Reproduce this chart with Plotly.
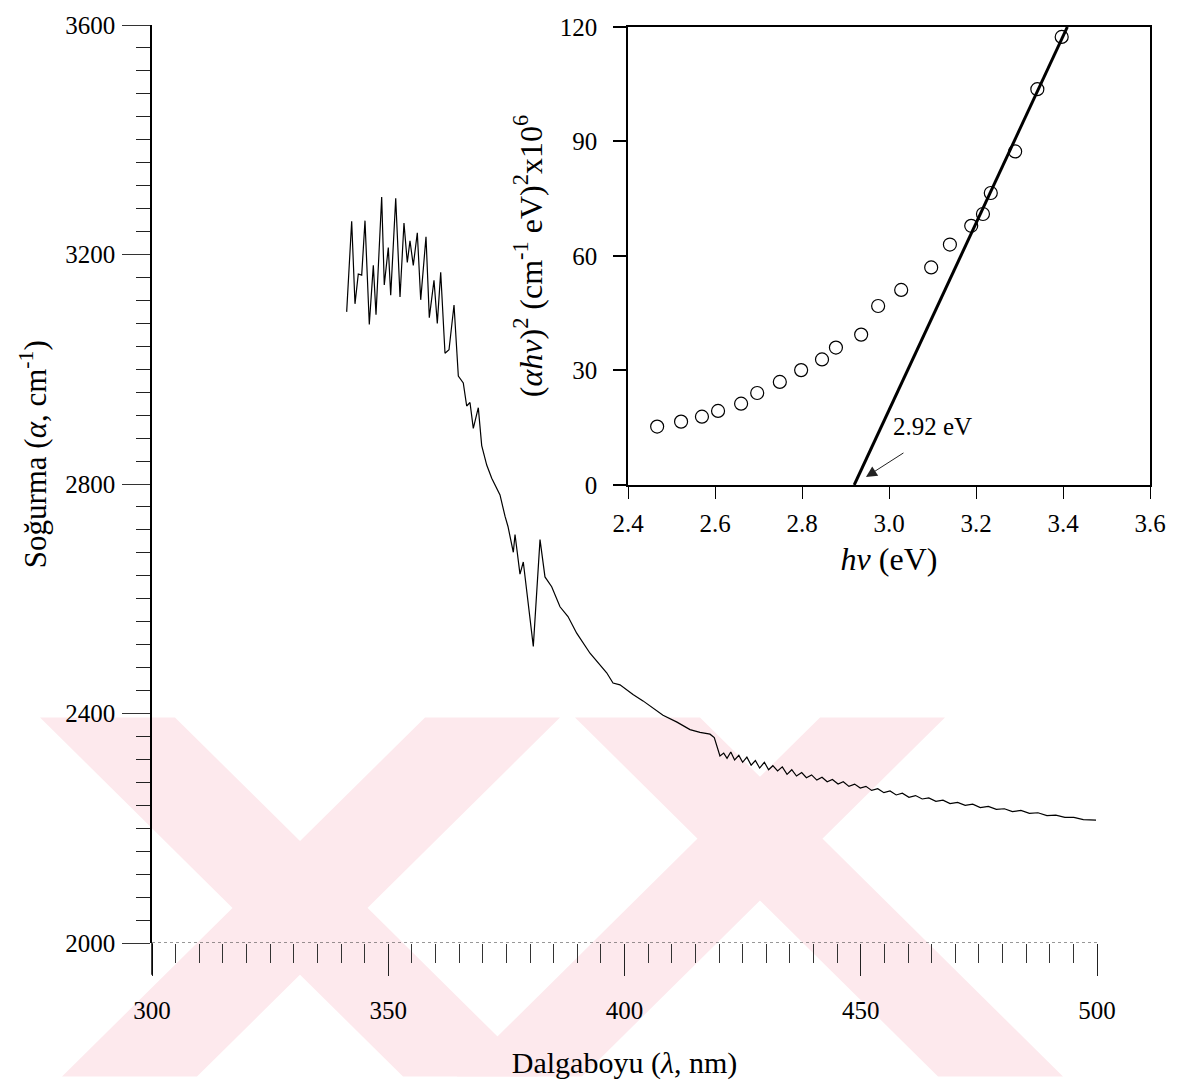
import plotly.graph_objects as go

# ---------------- data ----------------
wavelength_nm = [
    341.2, 342.26, 342.96, 343.66, 344.38, 345.08, 345.99, 346.84, 347.41, 348.61,
    349.16, 350.01, 350.52, 351.58, 352.49, 353.33, 354.03, 354.60, 355.30, 356.15,
    356.87, 357.99, 358.69, 359.68, 360.38, 361.10, 361.80, 362.01, 362.86, 363.92,
    364.83, 365.88, 366.60, 367.30, 368.00, 369.06, 369.78, 370.84, 371.90, 372.59,
    373.65, 374.71, 375.34, 376.47, 376.83, 377.88, 378.58, 380.70, 382.12, 383.17,
    384.59, 386.35, 388.04, 389.88, 392.70, 396.23, 397.57, 399.05, 401.80, 403.92,
    406.03, 408.15, 411.11, 413.86, 415.98, 418.10, 419.0, 419.6, 420.2,
    421.0, 421.7, 422.5, 423.3, 424.2, 425.0, 425.9, 426.8, 427.7, 428.6,
    429.6, 430.5, 431.4, 432.4, 433.4, 434.4, 435.4, 436.4, 437.5, 438.5,
    439.6, 440.7, 441.8, 442.9, 444.0, 445.2, 446.3, 447.5, 448.7, 449.9,
    451.1, 452.3, 453.6, 454.9, 456.2, 457.5, 458.8, 460.2, 461.6, 463.0,
    464.4, 465.9, 467.4, 468.9, 470.5, 472.1, 473.7, 475.3, 477.0, 478.7,
    480.4, 482.1, 483.9, 485.7, 487.5, 489.4, 491.3, 493.2, 495.1, 497.1,
    499.8,
]
absorption = [
    3100, 3258, 3114, 3166, 3164, 3259, 3078, 3181, 3095, 3300,
    3147, 3212, 3129, 3298, 3126, 3255, 3186, 3224, 3181, 3238,
    3121, 3231, 3090, 3155, 3080, 3169, 3060, 3028, 3034, 3112,
    2988, 2976, 2936, 2942, 2897, 2933, 2867, 2833, 2810, 2798,
    2781, 2744, 2726, 2681, 2712, 2643, 2664, 2517, 2703, 2638,
    2621, 2586, 2569, 2540, 2505, 2471, 2453, 2450, 2433, 2422,
    2410, 2397, 2385, 2372, 2367, 2364, 2358, 2342, 2326,
    2331, 2322, 2333, 2319, 2327, 2315, 2324, 2310, 2318, 2305,
    2315, 2302, 2309, 2300, 2307, 2294, 2302, 2291, 2297, 2288,
    2293, 2284, 2289, 2281, 2285, 2277, 2281, 2273, 2277, 2270,
    2273, 2266, 2269, 2262, 2265, 2258, 2261, 2254, 2257, 2251,
    2253, 2247, 2249, 2243, 2245, 2240, 2242, 2236, 2238, 2233,
    2234, 2229, 2231, 2226, 2227, 2222, 2223, 2219, 2219, 2215,
    2214,
]

photon_energy_eV = [2.467, 2.522, 2.570, 2.607, 2.660, 2.697, 2.749, 2.798, 2.846, 2.878,
                    2.936, 2.975, 3.028, 3.097, 3.140, 3.189, 3.216, 3.234, 3.290, 3.341, 3.397]
ahv_squared = [15.3, 16.6, 17.9, 19.4, 21.3, 24.1, 27.0, 30.1, 32.9, 36.0,
               39.4, 46.9, 51.1, 57.0, 63.0, 67.9, 71.0, 76.5, 87.4, 103.7, 117.4]

fit_energy = [2.92, 3.41]
fit_value = [0, 120]

band_gap_label = "2.92 eV"

main_x_ticks = [300, 350, 400, 450, 500]
main_y_ticks = [2000, 2400, 2800, 3200, 3600]
inset_x_ticks = [2.4, 2.6, 2.8, 3.0, 3.2, 3.4, 3.6]
inset_y_ticks = [0, 30, 60, 90, 120]

# watermark (decorative background, pixel polygons: top-left, top-right, bottom-left, bottom-right)
WM_TOP, WM_BOTTOM = 715, 1078
watermark_bands = [
    (40, 175, 403, 538),
    (425, 560, 62, 197),
    (575, 700, 938, 1063),
    (820, 945, 457, 582),
]

FONT = "Liberation Serif, Times New Roman, serif"
W, H = 1186, 1089
ML, MR, MT, MB = 152, 36, 15, 146
PW, PH = W - ML - MR, H - MT - MB


def px_to_paper(x, y):
    return (x - ML) / PW, (H - MB - y) / PH


fig = go.Figure()

fig.add_trace(go.Scatter(x=wavelength_nm, y=absorption, mode="lines",
                         line=dict(color="black", width=1.2), xaxis="x", yaxis="y",
                         showlegend=False))
fig.add_trace(go.Scatter(x=photon_energy_eV, y=ahv_squared, mode="markers",
                         marker=dict(symbol="circle-open", size=13, color="black",
                                     line=dict(width=1.2, color="black")),
                         xaxis="x2", yaxis="y2", showlegend=False))
fig.add_trace(go.Scatter(x=fit_energy, y=fit_value, mode="lines",
                         line=dict(color="black", width=3), xaxis="x2", yaxis="y2",
                         showlegend=False, cliponaxis=False))

main_x_end = (1097 - ML) / PW
inset_x0 = (628 - ML) / PW
inset_y0 = (H - MB - 480) / PH
inset_y1 = (H - MB - 17) / PH

tickfont = dict(family=FONT, size=25, color="black")

fig.update_layout(
    width=W, height=H,
    margin=dict(l=ML, r=MR, t=MT, b=MB, pad=0),
    paper_bgcolor="white", plot_bgcolor="rgba(0,0,0,0)",
    font=dict(family=FONT, color="black"),
    xaxis=dict(domain=[0, main_x_end], range=[300, 500], tickvals=main_x_ticks,
               ticks="outside", ticklen=32, tickwidth=1.3, tickcolor="#222",
               minor=dict(dtick=5, tick0=300, ticks="outside", ticklen=19,
                          tickwidth=1.1, tickcolor="#333"),
               showline=False, showgrid=False, zeroline=False,
               tickfont=tickfont, ticklabelstandoff=13,
               title=dict(text="Dalgaboyu (<i>λ</i>, nm)", standoff=28,
                          font=dict(family=FONT, size=30, color="black")),
               anchor="y"),
    yaxis=dict(domain=[0, 1], range=[2000, 3600], tickvals=main_y_ticks,
               ticks="outside", ticklen=28, tickwidth=1.2, tickcolor="#333",
               minor=dict(dtick=40, tick0=2000, ticks="outside", ticklen=14,
                          tickwidth=1.3, tickcolor="#222"),
               showline=True, linecolor="black", linewidth=1.5,
               showgrid=False, zeroline=False,
               tickfont=tickfont, ticklabelstandoff=2,
               anchor="x"),
    xaxis2=dict(domain=[inset_x0, 1], range=[2.4, 3.6], tickvals=inset_x_ticks,
                tickformat=".1f", ticks="outside", ticklen=12, tickwidth=1.3,
                tickcolor="black", showline=True, mirror=True, linecolor="black",
                linewidth=1.5, showgrid=False, zeroline=False,
                tickfont=tickfont, ticklabelstandoff=3,
                title=dict(text="<i>hν</i> (eV)", standoff=12,
                           font=dict(family=FONT, size=32, color="black")),
                anchor="y2"),
    yaxis2=dict(domain=[inset_y0, inset_y1], range=[0, 120], tickvals=inset_y_ticks,
                ticks="outside", ticklen=13, tickwidth=1.5, tickcolor="black",
                showline=True, mirror=True, linecolor="black", linewidth=1.5,
                showgrid=False, zeroline=False,
                tickfont=tickfont, ticklabelstandoff=11,
                title=dict(text="(<i>αhν</i>)<sup>2</sup> (cm<sup>-1</sup> eV)<sup>2</sup>x10<sup>6</sup>",
                           standoff=8, font=dict(family=FONT, size=32, color="black")),
                anchor="x2"),
)

shapes = []
for (a, b, c, d) in watermark_bands:
    p1 = px_to_paper(a, WM_TOP)
    p2 = px_to_paper(b, WM_TOP)
    p3 = px_to_paper(d, WM_BOTTOM)
    p4 = px_to_paper(c, WM_BOTTOM)
    path = f"M {p1[0]},{p1[1]} L {p2[0]},{p2[1]} L {p3[0]},{p3[1]} L {p4[0]},{p4[1]} Z"
    shapes.append(dict(type="path", xref="paper", yref="paper", path=path,
                       fillcolor="rgb(253,233,237)", line=dict(width=0), layer="below"))
shapes.append(dict(type="line", xref="x", yref="y", x0=300, x1=500, y0=2000, y1=2000,
                   line=dict(color="#333", width=1.2, dash="dot")))
shapes.append(dict(type="line", xref="paper", yref="paper", x0=0, x1=0, y0=0,
                   y1=-(975 - (H - MB)) / PH, line=dict(color="black", width=1.5)))
fig.update_layout(shapes=shapes)

# main y-axis title (placed like the original, above the domain centre)
ytitle_x, ytitle_y = px_to_paper(33, 449)
fig.add_annotation(x=ytitle_x, y=ytitle_y, xref="paper", yref="paper",
                   text="Soğurma (<i>α</i>, cm<sup>-1</sup>)", textangle=-90,
                   showarrow=False, xanchor="center", yanchor="middle",
                   font=dict(family=FONT, size=31, color="black"))

fig.add_annotation(x=3.101, y=15.3, xref="x2", yref="y2", text=band_gap_label,
                   showarrow=False, font=dict(family=FONT, size=25, color="black"))
fig.add_annotation(x=2.947, y=2.1, xref="x2", yref="y2", text="", showarrow=True,
                   ax=39, ay=-25, arrowhead=2, arrowsize=2.2, arrowwidth=1,
                   arrowcolor="#222")

fig.write_html("out.html")
